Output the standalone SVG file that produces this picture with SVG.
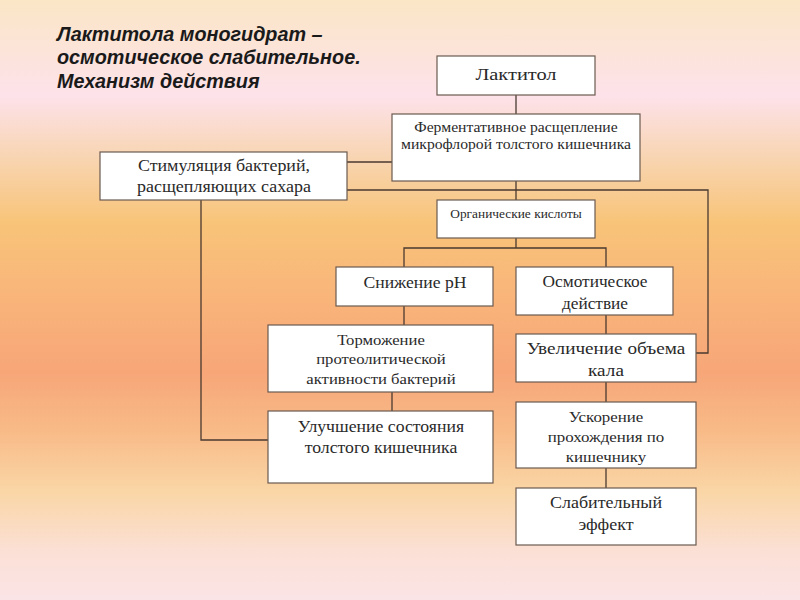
<svg xmlns="http://www.w3.org/2000/svg" width="800" height="600" viewBox="0 0 800 600">
<defs>
<linearGradient id="bg" x1="0" y1="0" x2="0" y2="1">
<stop offset="0" stop-color="#fbe6c6"/>
<stop offset="0.16" stop-color="#fde2ea"/>
<stop offset="0.26" stop-color="#f8d5b3"/>
<stop offset="0.37" stop-color="#f8c479"/>
<stop offset="0.5" stop-color="#f9b47a"/>
<stop offset="0.62" stop-color="#f7a678"/>
<stop offset="0.72" stop-color="#f8bb88"/>
<stop offset="0.82" stop-color="#fad6a6"/>
<stop offset="0.92" stop-color="#fbe0d6"/>
<stop offset="1" stop-color="#fbe4e6"/>
</linearGradient>
<style>
.box{fill:#ffffff;stroke:#6b5a50;stroke-width:1.2}
.t{font-family:"Liberation Serif","Times New Roman",serif;fill:#2a2a2a;text-anchor:middle}
.c{fill:none;stroke:#4a3a30;stroke-width:1.3}
.title{font-family:"Liberation Sans",Arial,sans-serif;font-weight:bold;font-style:italic;font-size:19.8px;fill:#1a1a1a}
</style>
</defs>
<rect width="800" height="600" fill="url(#bg)"/>
<g id="title">
<text class="title" x="57" y="41">Лактитола моногидрат –</text>
<text class="title" x="57" y="64">осмотическое слабительное.</text>
<text class="title" x="57" y="88">Механизм действия</text>
</g>
<g id="connectors">
<path class="c" d="M516,95 V114"/>
<path class="c" d="M347,162 H392"/>
<path class="c" d="M347,190 H708 V353 H696"/>
<path class="c" d="M516,181 V200"/>
<path class="c" d="M516,238 V248 M404,267 V248 H606 V267"/>
<path class="c" d="M404,306 V325"/>
<path class="c" d="M392,392 V411"/>
<path class="c" d="M201,200 V440 H268"/>
<path class="c" d="M606,315 V334"/>
<path class="c" d="M606,382 V402"/>
<path class="c" d="M606,468 V488"/>
</g>
<g id="n1"><rect class="box" x="437" y="56" width="158" height="39"/><g transform="translate(516 0) scale(1.2 1) translate(-516 0)"><text class="t" x="516" y="80" font-size="17">Лактитол</text></g></g>
<g id="n2"><rect class="box" x="392" y="114" width="248" height="67"/><g transform="translate(516 0) scale(1.12 1) translate(-516 0)"><text class="t" x="516" y="132" font-size="14">Ферментативное расщепление</text><text class="t" x="516" y="149" font-size="14">микрофлорой толстого кишечника</text></g></g>
<g id="n3"><rect class="box" x="100" y="152" width="247" height="48"/><g transform="translate(224 0) scale(1.09 1) translate(-224 0)"><text class="t" x="224" y="171" font-size="16.5">Стимуляция бактерий,</text><text class="t" x="224" y="192" font-size="16.5">расщепляющих сахара</text></g></g>
<g id="n4"><rect class="box" x="437" y="200" width="158" height="38"/><g transform="translate(516 0) scale(1.07 1) translate(-516 0)"><text class="t" x="516" y="218" font-size="12.5">Органические кислоты</text></g></g>
<g id="n5"><rect class="box" x="336" y="267" width="157" height="39"/><g transform="translate(415 0) scale(1.07 1) translate(-415 0)"><text class="t" x="415" y="288" font-size="16.5">Снижение pH</text></g></g>
<g id="n6"><rect class="box" x="516" y="267" width="157" height="48"/><g transform="translate(595 0) scale(1.05 1) translate(-595 0)"><text class="t" x="595" y="287" font-size="16.5">Осмотическое</text><text class="t" x="595" y="309" font-size="16.5">действие</text></g></g>
<g id="n7"><rect class="box" x="268" y="325" width="225" height="67"/><g transform="translate(381 0) scale(1.075 1) translate(-381 0)"><text class="t" x="381" y="345" font-size="15.5">Торможение</text><text class="t" x="381" y="364" font-size="15.5">протеолитической</text><text class="t" x="381" y="384" font-size="15.5">активности бактерий</text></g></g>
<g id="n8"><rect class="box" x="516" y="334" width="180" height="48"/><g transform="translate(606 0) scale(1.13 1) translate(-606 0)"><text class="t" x="606" y="354" font-size="17">Увеличение объема</text><text class="t" x="606" y="376" font-size="17">кала</text></g></g>
<g id="n9"><rect class="box" x="268" y="411" width="225" height="72"/><g transform="translate(381 0) scale(1.075 1) translate(-381 0)"><text class="t" x="381" y="432" font-size="16.5">Улучшение состояния</text><text class="t" x="381" y="453" font-size="16.5">толстого кишечника</text></g></g>
<g id="n10"><rect class="box" x="516" y="402" width="180" height="66"/><g transform="translate(606 0) scale(1.09 1) translate(-606 0)"><text class="t" x="606" y="422" font-size="15.5">Ускорение</text><text class="t" x="606" y="442" font-size="15.5">прохождения по</text><text class="t" x="606" y="462" font-size="15.5">кишечнику</text></g></g>
<g id="n11"><rect class="box" x="516" y="488" width="180" height="57"/><g transform="translate(606 0) scale(1.09 1) translate(-606 0)"><text class="t" x="606" y="508" font-size="16.5">Слабительный</text><text class="t" x="606" y="530" font-size="16.5">эффект</text></g></g>
</svg>
